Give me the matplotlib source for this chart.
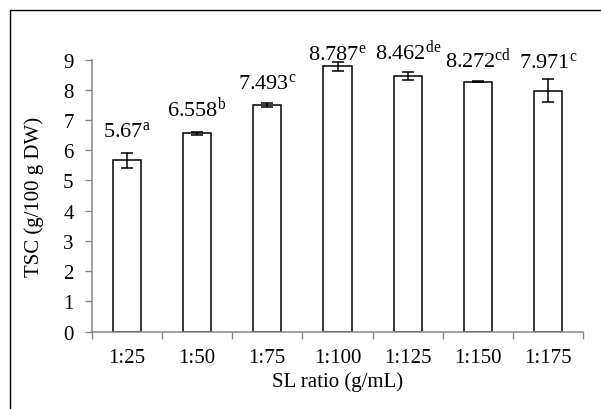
import numpy as np
import matplotlib
matplotlib.use('Agg')
from matplotlib import pyplot as plt
from matplotlib.patches import Rectangle

plt.rcParams['font.family'] = ['Liberation Serif', 'DejaVu Serif']
plt.rcParams['mathtext.fontset'] = 'custom'
plt.rcParams['mathtext.rm'] = 'Liberation Serif'
plt.rcParams['mathtext.it'] = 'Liberation Serif:italic'

## Data
ratios = ['1:25', '1:50', '1:75', '1:100', '1:125', '1:150', '1:175']
tsc = [5.67, 6.558, 7.493, 8.787, 8.462, 8.272, 7.971]
tsc_err = [0.24, 0.04, 0.06, 0.15, 0.13, 0.02, 0.38]
letters = ['a', 'b', 'c', 'e', 'de', 'cd', 'c']

# where the value labels sit (baseline, in data units)
label_y = [6.47, 7.14, 8.06, 9.02, 9.02, 8.76, 8.76]

axis_grey = '#868686'
fs = 15

fig = plt.figure(figsize=(6.01, 4.10), dpi=100)
ax = fig.add_axes([0.1526, 0.189, 0.818, 0.663])

x = np.arange(len(ratios))
ax.bar(x, tsc, width=0.4, color='white', edgecolor='black', linewidth=1.1, zorder=2)
ax.errorbar(x, tsc, yerr=tsc_err, fmt='none', ecolor='black', elinewidth=1.1,
            capsize=4, capthick=1.1, zorder=3)

for i in range(len(ratios)):
    txt = str(tsc[i]) + r'$^{\mathrm{' + letters[i] + '}}$'
    ax.text(x[i], label_y[i], txt, ha='center', va='baseline', fontsize=fs + 1, clip_on=False)

ax.set_xlim(-0.5, len(ratios) - 0.5)
ax.set_ylim(0, 9)
ax.set_yticks(range(0, 10))

# boundary ticks without labels, category labels at the centres
ax.set_xticks(np.arange(-0.5, len(ratios), 1.0))
ax.set_xticklabels([])
ax.set_xticks(x, minor=True)
ax.set_xticklabels(ratios, minor=True)
ax.tick_params(axis='x', which='major', direction='out', length=5, width=1, color=axis_grey)
ax.tick_params(axis='x', which='minor', length=0, pad=12, labelsize=fs)
ax.tick_params(axis='y', direction='out', length=5, width=1, color=axis_grey, pad=8, labelsize=fs)

for s in ['top', 'right']:
    ax.spines[s].set_visible(False)
for s in ['left', 'bottom']:
    ax.spines[s].set_color(axis_grey)
    ax.spines[s].set_linewidth(1.1)

ax.set_ylabel('TSC (g/100 g DW)', fontsize=fs)
ax.set_xlabel('SL ratio (g/mL)', fontsize=fs)
ax.yaxis.set_label_coords(-0.098, 0.5)
ax.xaxis.set_label_coords(0.5, -0.145)

# outer chart frame (cut off at right and bottom)
fig.patches.append(Rectangle((10 / 601, -0.1), 1.2, 1 - 11 / 410 + 0.1,
                             transform=fig.transFigure, fill=False,
                             edgecolor='black', linewidth=1))

plt.savefig('out.png', dpi=100)
